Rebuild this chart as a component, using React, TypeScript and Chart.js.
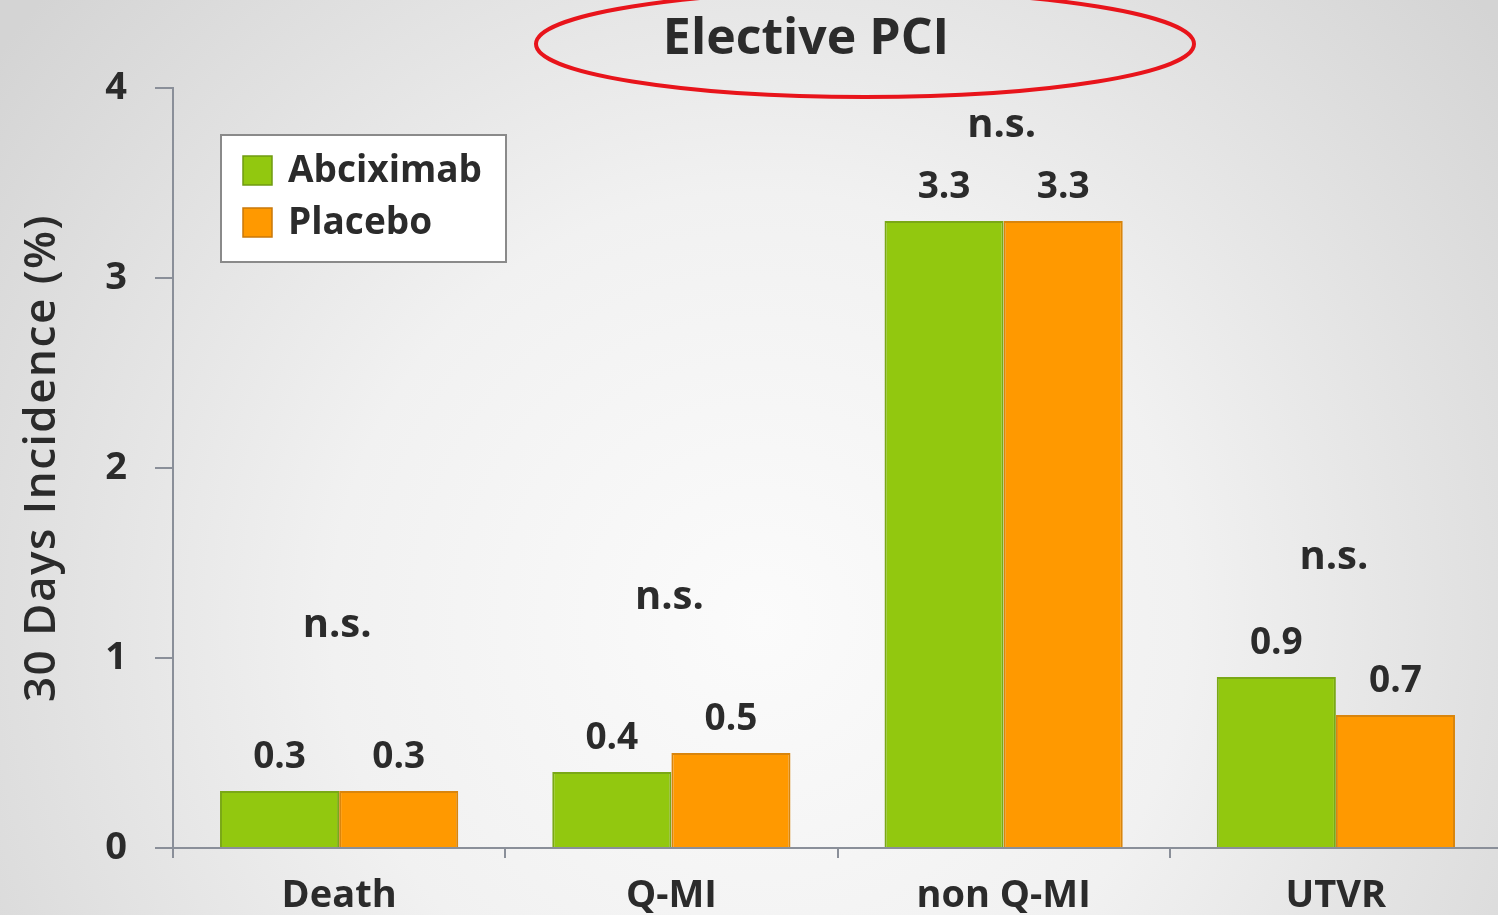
import React, { useEffect, useRef } from "react";
import { Chart, registerables } from "chart.js";

Chart.register(...registerables);

const categories = ["Death", "Q-MI", "non Q-MI", "UTVR"];
const abciximab = [0.3, 0.4, 3.3, 0.9];
const placebo = [0.3, 0.5, 3.3, 0.7];
const nsLevels = [1.17, 1.32, 3.8, 1.53];
const nsText = "n.s.";
const seriesNames = ["Abciximab", "Placebo"];
const yTicks = [0, 1, 2, 3, 4];
const titleText = "Elective PCI";
const yTitle = "30 Days Incidence (%)";

const GREEN = "#92c80f";
const ORANGE = "#ff9900";
const FONT = "'Open Sans', 'Noto Sans', sans-serif";
const TEXT = "#2b2b2b";

export default function App() {
  const ref = useRef<HTMLCanvasElement>(null);

  useEffect(() => {
    document.body.style.margin = "0";
    document.body.style.overflow = "hidden";
    const canvas = ref.current!;
    const bgPlugin = {
      id: "bg",
      beforeDraw(chart: any) {
        const { ctx, width, height } = chart;
        ctx.save();
        const g = ctx.createRadialGradient(760, 620, 0, 760, 620, 950);
        g.addColorStop(0, "#fbfbfb");
        g.addColorStop(0.45, "#f1f1f1");
        g.addColorStop(1, "#d4d4d4");
        ctx.fillStyle = g;
        ctx.fillRect(0, 0, width, height);
        ctx.restore();
      },
    };
    const decoPlugin = {
      id: "deco",
      afterDatasetsDraw(chart: any) {
        const { ctx } = chart;
        const y = chart.scales.y;
        ctx.save();
        ctx.fillStyle = TEXT;
        ctx.textAlign = "center";
        ctx.textBaseline = "middle";
        ctx.font = `bold 37px ${FONT}`;
        chart.data.datasets.forEach((ds: any, di: number) => {
          const meta = chart.getDatasetMeta(di);
          meta.data.forEach((bar: any, i: number) => {
            ctx.fillText(String(ds.data[i]), bar.x, bar.y - 34);
          });
        });
        const x = chart.scales.x;
        ctx.font = `bold 40px ${FONT}`;
        nsLevels.forEach((lv, i) => {
          ctx.fillText(nsText, x.getPixelForValue(i) - 2, y.getPixelForValue(lv));
        });
        ctx.restore();
      },
      afterDraw(chart: any) {
        const { ctx } = chart;
        ctx.save();
        // y-axis title
        ctx.fillStyle = TEXT;
        ctx.font = `600 44px ${FONT}`;
        ctx.textAlign = "center";
        ctx.textBaseline = "middle";
        ctx.translate(42, 458);
        ctx.rotate(-Math.PI / 2);
        (ctx as any).letterSpacing = "1.5px";
        ctx.fillText(yTitle, 0, 0);
        (ctx as any).letterSpacing = "0px";
        ctx.setTransform(1, 0, 0, 1, 0, 0);
        // title
        ctx.font = `bold 50px ${FONT}`;
        ctx.fillText(titleText, 806, 40);
        ctx.beginPath();
        ctx.ellipse(865, 44, 329, 53, 0, 0, Math.PI * 2);
        ctx.strokeStyle = "#e8141b";
        ctx.lineWidth = 4;
        ctx.stroke();
        // legend
        ctx.fillStyle = "#ffffff";
        ctx.fillRect(221, 135, 285, 127);
        ctx.strokeStyle = "#8a8a8a";
        ctx.lineWidth = 2;
        ctx.strokeRect(221, 135, 285, 127);
        const colors = [GREEN, ORANGE];
        const borders = ["#6f9a12", "#c9780a"];
        ctx.font = `bold 37px ${FONT}`;
        ctx.textAlign = "left";
        seriesNames.forEach((n, i) => {
          const cy = 170 + i * 52;
          ctx.fillStyle = colors[i];
          ctx.fillRect(243, cy - 14, 29, 29);
          ctx.strokeStyle = borders[i];
          ctx.lineWidth = 1.5;
          ctx.strokeRect(243, cy - 14, 29, 29);
          ctx.fillStyle = TEXT;
          ctx.fillText(n, 288, cy + 1);
        });
        ctx.restore();
      },
    };

    const chart = new Chart(canvas, {
      type: "bar",
      data: {
        labels: categories,
        datasets: [
          {
            label: seriesNames[0],
            data: abciximab,
            backgroundColor: GREEN,
            borderColor: "#7aa816",
            borderWidth: 2,
            categoryPercentage: 0.717,
            barPercentage: 1,
          },
          {
            label: seriesNames[1],
            data: placebo,
            backgroundColor: ORANGE,
            borderColor: "#d9850c",
            borderWidth: 2,
            categoryPercentage: 0.717,
            barPercentage: 1,
          },
        ],
      },
      options: {
        responsive: false,
        animation: false,
        layout: { padding: { left: 0, top: 88, right: 3, bottom: 0 } },
        plugins: {
          legend: { display: false },
          tooltip: { enabled: false },
        },
        scales: {
          x: {
            grid: {
              display: true,
              drawOnChartArea: false,
              tickLength: 10,
              color: "#8a8f99",
              lineWidth: 2,
            },
            border: { display: true, color: "#8a8f99", width: 2 },
            ticks: {
              color: TEXT,
              font: { family: FONT, size: 38, weight: "bold" },
              padding: 15,
            },
            afterFit(scale: any) {
              scale.height = 67;
            },
          },
          y: {
            min: 0,
            max: 4,
            afterBuildTicks(scale: any) {
              scale.ticks = yTicks.map((v) => ({ value: v }));
            },
            grid: {
              display: true,
              drawOnChartArea: false,
              tickLength: 18,
              color: "#8a8f99",
              lineWidth: 2,
            },
            border: { display: true, color: "#8a8f99", width: 2 },
            ticks: {
              color: TEXT,
              font: { family: FONT, size: 38, weight: "bold" },
              padding: 28,
            },
            title: { display: false },
            afterFit(scale: any) {
              scale.width = 173;
            },
          },
        },
      },
      plugins: [bgPlugin, decoPlugin],
    });
    return () => chart.destroy();
  }, []);

  return <canvas ref={ref} width={1505} height={915} style={{ display: "block" }} />;
}
